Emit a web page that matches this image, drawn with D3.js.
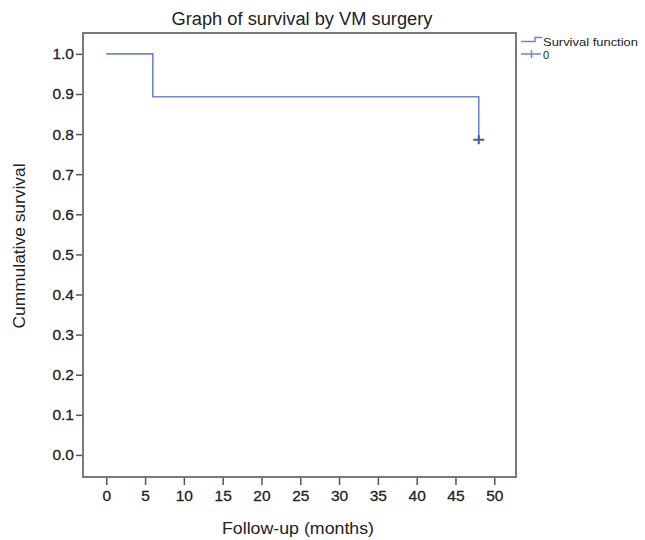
<!DOCTYPE html>
<html>
<head>
<meta charset="utf-8">
<script src="https://cdn.jsdelivr.net/npm/d3@7"></script>
<style>
  body { margin: 0; background: #fff; }
  text { font-family: "Liberation Sans", Arial, sans-serif; fill: #222; }
</style>
</head>
<body>
<div id="chart"></div>
<script>
// Kaplan-Meier curve values
const stepTimes = [0, 6, 48];
const stepSurvival = [1.0, 0.893, 0.786];
const censorTimes = [48];
const censorSurvival = [0.786];

const xTicks = [0, 5, 10, 15, 20, 25, 30, 35, 40, 45, 50];
const yTicks = [0.0, 0.1, 0.2, 0.3, 0.4, 0.5, 0.6, 0.7, 0.8, 0.9, 1.0];

const width = 645, height = 540;
const box = { left: 83, right: 516, top: 33, bottom: 477 };

const lineColor = "#7185c9";
const censorColor = "#3f58a8";

const svg = d3.select("#chart").append("svg")
  .attr("width", width)
  .attr("height", height);

const x = d3.scaleLinear().domain([-3, 52.8]).range([box.left, box.right]);
const y = d3.scaleLinear().domain([-0.055, 1.052]).range([box.bottom, box.top]);

// plot frame
svg.append("rect")
  .attr("x", box.left).attr("y", box.top)
  .attr("width", box.right - box.left).attr("height", box.bottom - box.top)
  .attr("fill", "none").attr("stroke", "#7a7a7a").attr("stroke-width", 2);

// y axis
const yAxis = svg.append("g")
  .attr("transform", `translate(${box.left - 1},0)`)
  .call(d3.axisLeft(y).tickValues(yTicks).tickFormat(d3.format(".1f")).tickSize(6).tickPadding(2));
yAxis.select(".domain").remove();
yAxis.selectAll(".tick line").attr("stroke", "#555").attr("stroke-width", 1.5);
yAxis.selectAll(".tick text").style("font-size", "15.5px").attr("fill", "#222")
  .attr("stroke", "#222").attr("stroke-width", 0.3);

// x axis
const xAxis = svg.append("g")
  .attr("transform", `translate(0,${box.bottom + 1})`)
  .call(d3.axisBottom(x).tickValues(xTicks).tickSize(7).tickPadding(5));
xAxis.select(".domain").remove();
xAxis.selectAll(".tick line").attr("stroke", "#555").attr("stroke-width", 1.5);
xAxis.selectAll(".tick text").style("font-size", "15.5px").attr("fill", "#222")
  .attr("stroke", "#222").attr("stroke-width", 0.3);

// survival step line
const pts = stepTimes.map((t, i) => [t, stepSurvival[i]]);
svg.append("path")
  .datum(pts)
  .attr("fill", "none")
  .attr("stroke", lineColor)
  .attr("stroke-width", 1.6)
  .attr("d", d3.line().x(d => x(d[0])).y(d => y(d[1])).curve(d3.curveStepAfter));

// censored marks
censorTimes.forEach(function(t, i) {
  const cx = x(t), cy = y(censorSurvival[i]);
  svg.append("path")
    .attr("d", `M${cx - 5.5},${cy}H${cx + 5.5}M${cx},${cy - 4.5}V${cy + 4.5}`)
    .attr("stroke", censorColor).attr("stroke-width", 2).attr("fill", "none");
});

// title
svg.append("text")
  .attr("x", 302).attr("y", 25)
  .attr("text-anchor", "middle")
  .style("font-size", "18px")
  .attr("textLength", 261).attr("lengthAdjust", "spacingAndGlyphs")
  .text("Graph of survival by VM surgery");

// axis titles
svg.append("text")
  .attr("x", 298).attr("y", 534)
  .attr("text-anchor", "middle")
  .style("font-size", "17px")
  .attr("textLength", 152).attr("lengthAdjust", "spacingAndGlyphs")
  .text("Follow-up (months)");

svg.append("text")
  .attr("transform", "translate(25,246) rotate(-90)")
  .attr("text-anchor", "middle")
  .style("font-size", "17px")
  .attr("textLength", 165).attr("lengthAdjust", "spacingAndGlyphs")
  .text("Cummulative survival");

// legend
const legend = svg.append("g");
legend.append("path")
  .attr("d", "M521,41.5H535V37.5H542")
  .attr("stroke", lineColor).attr("stroke-width", 1.5).attr("fill", "none");
legend.append("path")
  .attr("d", "M521,54H541M531.5,50V58")
  .attr("stroke", lineColor).attr("stroke-width", 1.5).attr("fill", "none");
legend.append("text")
  .attr("x", 543).attr("y", 45.5)
  .style("font-size", "11px")
  .attr("textLength", 95).attr("lengthAdjust", "spacingAndGlyphs")
  .text("Survival function");
legend.append("text")
  .attr("x", 543).attr("y", 58.5)
  .style("font-size", "11px")
  .text("0");
</script>
</body>
</html>
